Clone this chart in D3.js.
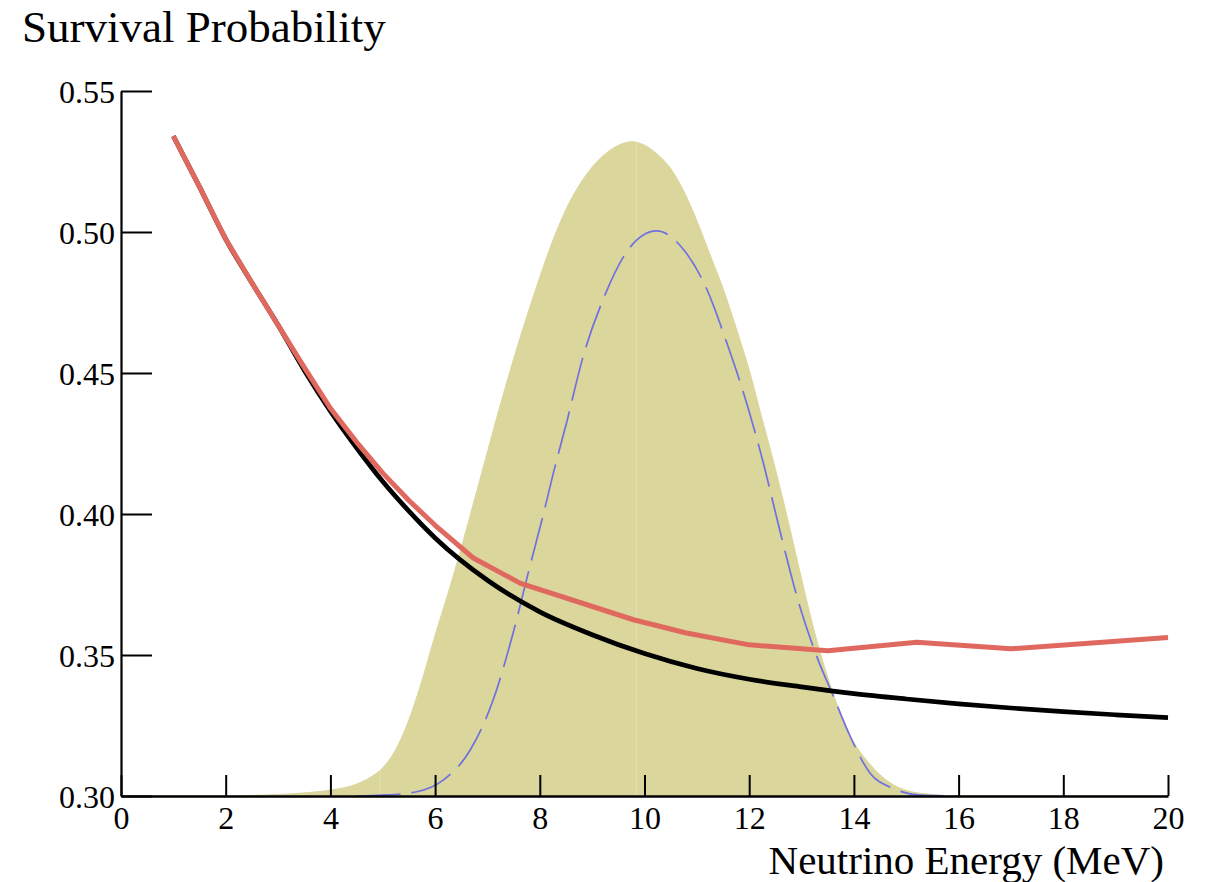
<!DOCTYPE html>
<html>
<head>
<meta charset="utf-8">
<script src="https://cdn.jsdelivr.net/npm/d3@7"></script>
<style>
  html, body { margin: 0; padding: 0; background: #fff; }
  svg { display: block; }
  text { font-family: "Liberation Serif", "DejaVu Serif", serif; fill: #000; }
</style>
</head>
<body>
<svg id="chart" width="1209" height="882"></svg>
<script>
// Survival probability vs neutrino energy (thick black: without matter term, red: with)
const vacuumE = [1, 1.5, 2, 2.5, 3, 3.5, 4, 4.5, 5, 5.5, 6, 7, 8, 9, 10, 11, 12, 13, 14, 15, 16, 17, 18, 19, 20];
const vacuumP = [0.534, 0.516, 0.4975, 0.482, 0.467, 0.451, 0.4365, 0.4235, 0.4115, 0.401, 0.3915, 0.3765, 0.3653, 0.3572, 0.3505, 0.3452, 0.3414, 0.3387, 0.3363, 0.3344, 0.3327, 0.3312, 0.3299, 0.3288, 0.3278];

const matterE = [1, 1.5, 2, 2.5, 3, 3.5, 4, 4.5, 5, 5.5, 6, 6.73, 7.62, 9.79, 10.8, 12.0, 13.5, 15.2, 17.0, 20];
const matterP = [0.534, 0.516, 0.4975, 0.482, 0.467, 0.452, 0.4375, 0.4255, 0.4145, 0.4048, 0.396, 0.3844, 0.3755, 0.3625, 0.3578, 0.3536, 0.3515, 0.3545, 0.3522, 0.3562];

// Source spectrum (filled) and detected spectrum (dashed), drawn in the same y units
const spectrumE = [0, 2, 2.5, 3, 3.5, 4,
  4.5, 4.75, 5.0, 5.25, 5.5, 5.75, 6.0, 6.25, 6.5, 6.75, 7.0, 7.25, 7.5, 7.75,
  8.0, 8.25, 8.5, 8.75, 9.0, 9.25, 9.5, 9.75, 10.0, 10.25, 10.5, 10.75, 11.0, 11.25,
  11.5, 11.75, 12.0, 12.25, 12.5, 12.75, 13.0, 13.25, 13.5, 13.75, 14.0, 14.25, 14.5,
  14.75, 15.0, 15.5, 16, 20];
const spectrumV = [0.300, 0.300, 0.3002, 0.3005, 0.3011, 0.3021,
  0.3042, 0.3065, 0.3100, 0.3165, 0.3270, 0.3410, 0.357, 0.372, 0.388, 0.405, 0.422, 0.439, 0.455, 0.470,
  0.484, 0.497, 0.508, 0.5165, 0.523, 0.5277, 0.5307, 0.532, 0.5308, 0.5275, 0.5225, 0.5145, 0.504, 0.492,
  0.480, 0.466, 0.451, 0.4335, 0.416, 0.397, 0.377, 0.358, 0.342, 0.329, 0.319, 0.3125, 0.3075,
  0.304, 0.302, 0.3005, 0.300, 0.300];

const detectedE = [4.5, 5.0, 5.65, 6.16, 6.67, 7.11, 7.49, 7.81, 8.07, 8.26, 8.51, 8.83, 9.21, 9.72, 10.23, 10.74, 11.19, 11.57, 11.95, 12.27, 12.55, 12.97, 13.29, 13.61, 13.93, 14.31, 14.75, 15.26, 16];
const detectedV = [0.300, 0.3003, 0.3015, 0.3057, 0.3163, 0.3341, 0.3578, 0.3814, 0.400, 0.4146, 0.4323, 0.456, 0.4761, 0.4945, 0.5004, 0.4939, 0.4797, 0.4608, 0.4394, 0.4181, 0.3968, 0.367, 0.3495, 0.3353, 0.3211, 0.3081, 0.3027, 0.3003, 0.300];

const xMajor = d3.range(0, 20.001, 2);
const xMinor = d3.range(0, 20.001, 0.5);
const yMajor = [0.30, 0.35, 0.40, 0.45, 0.50, 0.55];
const yMinor = d3.range(0.30, 0.5501, 0.01);
const seamE = [4.95, 9.85];

const svg = d3.select("#chart");
const x = d3.scaleLinear().domain([0, 20]).range([121, 1168]);
const y = d3.scaleLinear().domain([0.30, 0.55]).range([796, 91]);

const zip = (a, b) => a.map((d, i) => [d, b[i]]);

// filled spectrum
const area = d3.area()
  .x(d => x(d[0])).y0(y(0.30)).y1(d => y(d[1]))
  .curve(d3.curveMonotoneX);
const specData = zip(spectrumE, spectrumV);
svg.append("clipPath").attr("id", "specClip")
  .append("path").attr("d", area(specData));
svg.append("path")
  .attr("d", area(specData))
  .attr("fill", "#dad69c")
  .attr("stroke", "#dad69c")
  .attr("stroke-width", 1);
svg.append("g").attr("clip-path", "url(#specClip)")
  .selectAll("line").data(seamE).join("line")
  .attr("x1", d => x(d)).attr("x2", d => x(d))
  .attr("y1", y(0.55)).attr("y2", y(0.30))
  .attr("stroke", "#e3e0b6").attr("stroke-width", 1);

const line = d3.line().x(d => x(d[0])).y(d => y(d[1]));

// detected spectrum, dashed
svg.append("path")
  .attr("d", line.curve(d3.curveMonotoneX)(zip(detectedE, detectedV)))
  .attr("fill", "none")
  .attr("stroke", "#7070e0")
  .attr("stroke-width", 1.7)
  .attr("stroke-dasharray", "44,11");

// survival probability curves
svg.append("path")
  .attr("d", line.curve(d3.curveMonotoneX)(zip(vacuumE, vacuumP)))
  .attr("fill", "none")
  .attr("stroke", "#000")
  .attr("stroke-width", 4.7);

svg.append("path")
  .attr("d", line.curve(d3.curveLinear)(zip(matterE, matterP)))
  .attr("fill", "none")
  .attr("stroke", "#e0695f")
  .attr("stroke-width", 5)
  .attr("stroke-linejoin", "round");

// axes: ticks point inward
const gx = svg.append("g").attr("transform", `translate(0,${y(0.30)})`);
gx.call(d3.axisBottom(x).tickValues(xMinor).tickSizeInner(-11).tickSizeOuter(0).tickFormat(""));
gx.call(d3.axisBottom(x).tickValues(xMajor).tickSizeInner(-21).tickSizeOuter(0).tickFormat(d3.format("d")));
gx.selectAll("text").attr("y", 0).attr("dy", 33).attr("font-size", 32)
  .attr("font-family", "Liberation Serif");
gx.selectAll("line").attr("stroke", "#000").attr("stroke-width", 2);
gx.selectAll(".domain").attr("stroke", "#000").attr("stroke-width", 2.6);

const gy = svg.append("g").attr("transform", `translate(${x(0)},0)`);
gy.call(d3.axisLeft(y).tickValues(yMinor).tickSizeInner(-15).tickSizeOuter(0).tickFormat(""));
gy.call(d3.axisLeft(y).tickValues(yMajor).tickSizeInner(-31).tickSizeOuter(0).tickFormat(d3.format(".2f")));
gy.selectAll("text").attr("x", -6).attr("dy", 11).attr("font-size", 32)
  .attr("font-family", "Liberation Serif");
gy.selectAll("line").attr("stroke", "#000").attr("stroke-width", 2);
gy.selectAll(".domain").attr("stroke", "#000").attr("stroke-width", 2.2);

// axis titles
svg.append("text")
  .attr("x", 22).attr("y", 42)
  .attr("font-size", 45)
  .text("Survival Probability");
svg.append("text")
  .attr("x", 1164).attr("y", 874)
  .attr("text-anchor", "end")
  .attr("font-size", 41)
  .text("Neutrino Energy (MeV)");
</script>
</body>
</html>
